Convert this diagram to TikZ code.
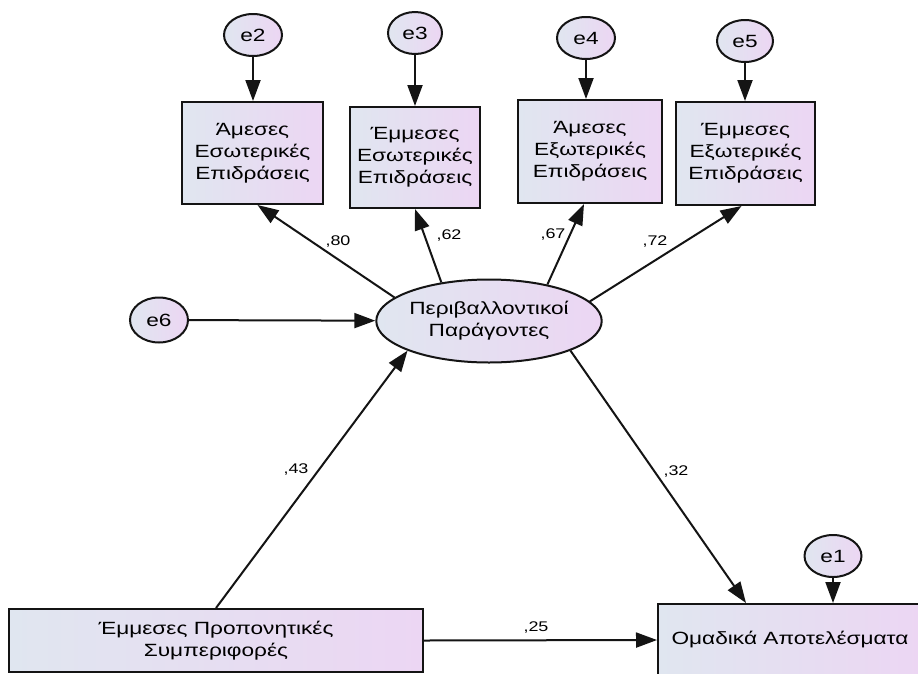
\documentclass[tikz,border=0pt]{standalone}
\usepackage{fontspec}
\setmainfont{Liberation Sans}[FakeStretch=1.28]
\usetikzlibrary{shapes.geometric,arrows.meta}
\definecolor{fillL}{RGB}{224,230,240}
\definecolor{fillR}{RGB}{236,214,243}
\definecolor{edge}{RGB}{20,20,20}
\tikzset{
  shade common/.style={draw=edge,line width=2pt,left color=fillL,right color=fillR,
    font=\fontsize{17.7}{22}\selectfont,align=center,inner sep=0pt},
  errnode/.style={shade common,ellipse,minimum width=58pt,minimum height=42pt},
  obsbox/.style={shade common,rectangle},
  latnode/.style={shade common,ellipse,minimum width=218pt,minimum height=83pt},
  path arrow/.style={draw=edge,line width=2pt,-{Triangle[length=21pt,width=15pt]}},
  coef/.style={font=\fontsize{14}{16}\selectfont,inner sep=0pt}
}
\begin{document}
\begin{tikzpicture}[x=1pt,y=-1pt]
\useasboundingbox (0,0) rectangle (918,673);
\fill[white] (0,0) rectangle (918,673);
\clip (0,0) rectangle (918,673);

% error terms
\node[errnode] (e2) at (253,35) {e2};
\node[errnode,minimum width=54pt] (e3) at (415,33) {e3};
\node[errnode] (e4) at (586,38) {e4};
\node[errnode,minimum width=56pt] (e5) at (745,41) {e5};
\node[errnode,minimum height=45pt] (e6) at (159,320) {e6};
\node[errnode,minimum width=57pt] (e1) at (833,556) {e1};

% indicator boxes
\node[obsbox,minimum width=141pt,minimum height=102pt] (b1) at (252.5,153) {Άμεσες\\Εσωτερικές\\Επιδράσεις};
\node[obsbox,minimum width=130pt,minimum height=101pt] (b2) at (415,157.5) {Έμμεσες\\Εσωτερικές\\Επιδράσεις};
\node[obsbox,minimum width=144pt,minimum height=103pt] (b3) at (590,151.5) {Άμεσες\\Εξωτερικές\\Επιδράσεις};
\node[obsbox,minimum width=139pt,minimum height=103pt] (b4) at (745.5,153.5) {Έμμεσες\\Εξωτερικές\\Επιδράσεις};

% latent factor
\node[latnode] (lat) at (489,321) {Περιβαλλοντικοί\\Παράγοντες};

% bottom boxes
\node[obsbox,minimum width=414pt,minimum height=63pt] (lb) at (216,640.5) {Έμμεσες Προπονητικές\\Συμπεριφορές};
\node[obsbox,minimum width=264pt,minimum height=72pt] (rb) at (790,640) {Ομαδικά Αποτελέσματα};

% error arrows
\draw[path arrow] (e2) -- (e2 |- b1.north);
\draw[path arrow] (e3) -- (e3 |- b2.north);
\draw[path arrow] (e4) -- (e4 |- b3.north);
\draw[path arrow] (e5) -- (e5 |- b4.north);
\draw[path arrow] (e6) -- (lat);
\draw[path arrow] (e1) -- (e1 |- rb.north);

% loadings
\draw[path arrow] (lat.166) -- ([xshift=5pt]b1.south);
\draw[path arrow] (lat.141) -- (b2.south);
\draw[path arrow] (lat.32) -- ([xshift=-6pt]b3.south);
\draw[path arrow] (lat.11) -- ([xshift=-4pt]b4.south);

% structural paths
\draw[path arrow] (lb.north) -- (lat.200);
\draw[path arrow] (lat.340) -- ([xshift=89pt]rb.north west);
\draw[path arrow] (lb.east) -- (rb.west);

% coefficients
\node[coef] (c80) at (338,242) {,80};
\node[coef] (c62) at (449,236) {,62};
\node[coef] (c67) at (553,235) {,67};
\node[coef] (c72) at (655,242) {,72};
\node[coef] (c43) at (296,469) {,43};
\node[coef] (c32) at (676,471) {,32};
\node[coef] (c25) at (536,627) {,25};
\end{tikzpicture}
\end{document}
